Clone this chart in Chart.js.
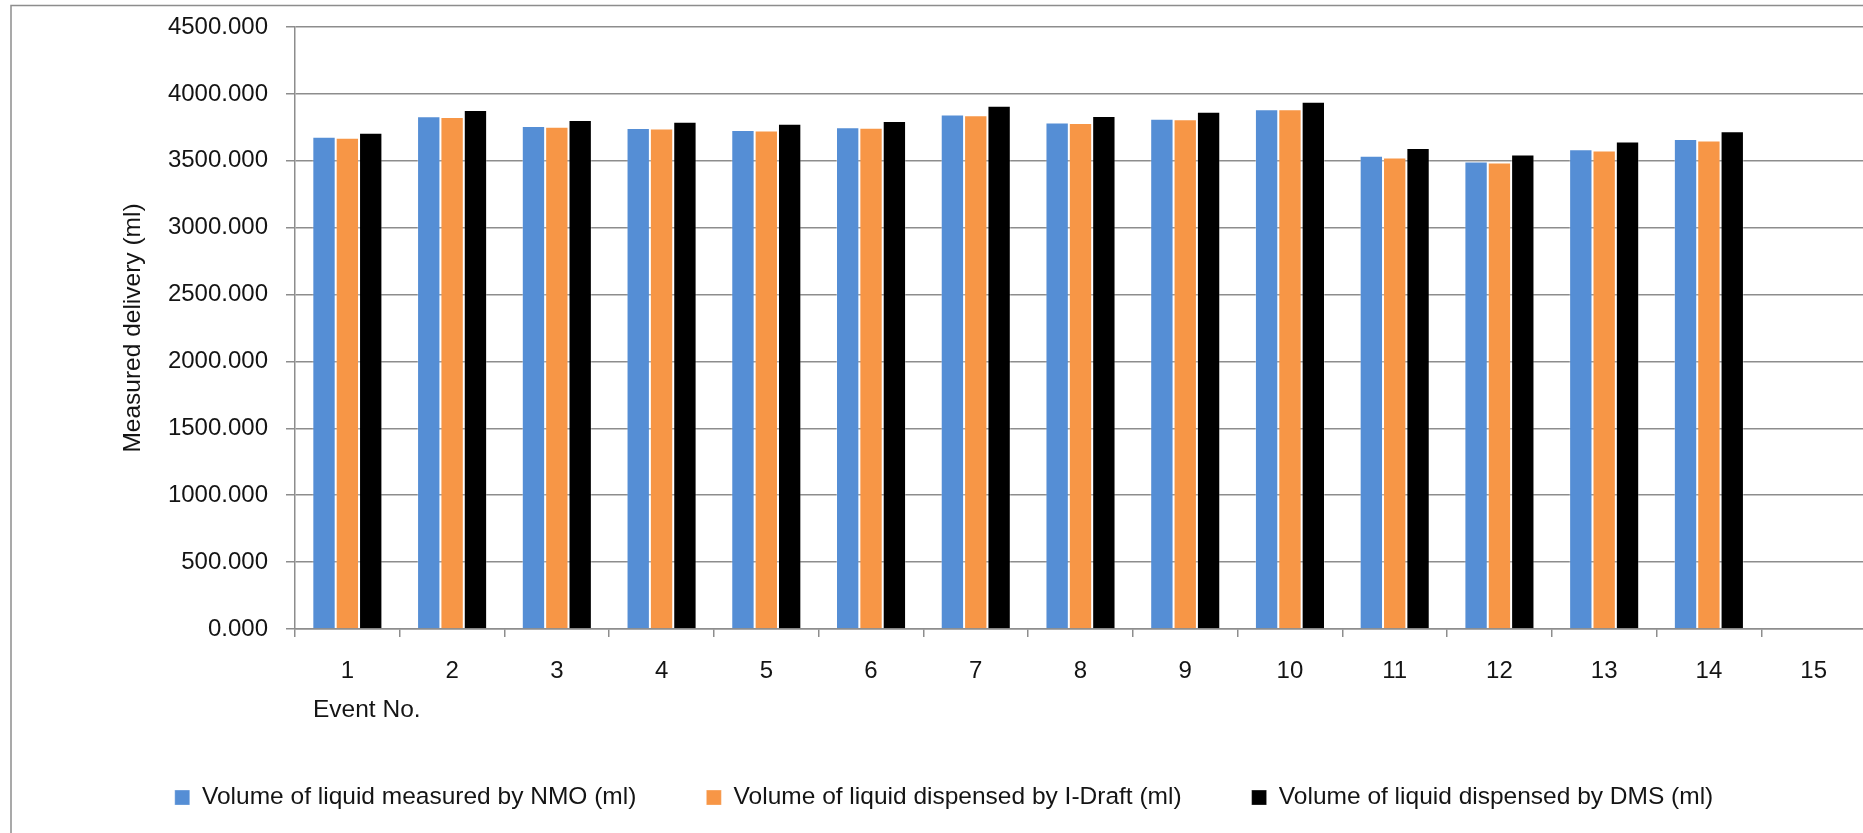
<!DOCTYPE html>
<html>
<head>
<meta charset="utf-8">
<title>Measured delivery per event</title>
<script src="https://cdn.jsdelivr.net/npm/chart.js@4.4.1/dist/chart.umd.min.js"></script>
<style>
  html, body { margin: 0; padding: 0; background: #ffffff; overflow: hidden; }
  #wrap { position: absolute; left: 0; top: 0; width: 1888px; height: 833px; }
</style>
</head>
<body>
<div id="wrap"><canvas id="chart" width="1888" height="833"></canvas></div>
<script>
// Event numbers along the x axis
const events = ['1', '2', '3', '4', '5', '6', '7', '8', '9', '10', '11', '12', '13', '14', '15'];

// Volumes per event (ml); event 15 has no readings
const nmoVolume    = [3680, 3832, 3760, 3745, 3730, 3750, 3845, 3787, 3815, 3885, 3537, 3495, 3587, 3662, null];
const iDraftVolume = [3672, 3827, 3755, 3742, 3727, 3747, 3840, 3782, 3810, 3885, 3525, 3487, 3577, 3652, null];
const dmsVolume    = [3710, 3880, 3805, 3792, 3777, 3797, 3912, 3835, 3867, 3942, 3595, 3547, 3645, 3720, null];

// Value axis ticks
const yTickValues = [0, 500, 1000, 1500, 2000, 2500, 3000, 3500, 4000, 4500];

const seriesNames = [
  'Volume of liquid measured by NMO (ml)',
  'Volume of liquid dispensed by I-Draft (ml)',
  'Volume of liquid dispensed by DMS (ml)'
];
const xTitle = 'Event No.';
const yTitle = 'Measured delivery (ml)';

const GRID = '#8d8d8d';
const TEXT = '#141414';
const FONT = "'Liberation Sans', Arial, sans-serif";

Chart.defaults.font.family = FONT;
Chart.defaults.font.size = 24;
Chart.defaults.color = TEXT;

// Outer frame of the chart area and the left-aligned category title
const framePlugin = {
  id: 'frame',
  beforeDraw(chart) {
    const ctx = chart.ctx;
    ctx.save();
    ctx.strokeStyle = GRID;
    ctx.lineWidth = 1.5;
    ctx.strokeRect(11, 5.5, chart.width - 22, chart.height + 20);
    ctx.restore();
  },
  afterDraw(chart) {
    const ctx = chart.ctx;
    const xs = chart.scales.x;
    ctx.save();
    ctx.font = '24.5px ' + FONT;
    ctx.fillStyle = TEXT;
    ctx.textAlign = 'left';
    ctx.textBaseline = 'alphabetic';
    ctx.fillText(xTitle, xs.left + 18, chart.chartArea.bottom + 88);
    ctx.restore();
  }
};

const barCommon = {
  borderWidth: 1,
  borderColor: 'rgba(255,255,255,0.3)',
  borderSkipped: 'bottom',
  categoryPercentage: 0.669,
  barPercentage: 1.0
};

new Chart(document.getElementById('chart'), {
  type: 'bar',
  data: {
    labels: events,
    datasets: [
      Object.assign({ label: seriesNames[0], data: nmoVolume,    backgroundColor: '#558ed5' }, barCommon),
      Object.assign({ label: seriesNames[1], data: iDraftVolume, backgroundColor: '#f79646' }, barCommon),
      Object.assign({ label: seriesNames[2], data: dmsVolume,    backgroundColor: '#000000' }, barCommon)
    ]
  },
  options: {
    responsive: false,
    animation: false,
    devicePixelRatio: 1,
    layout: { padding: { left: 22, right: 22, top: 27, bottom: 13.2 } },
    plugins: {
      legend: {
        position: 'bottom',
        align: 'center',
        labels: {
          boxWidth: 15,
          boxHeight: 15,
          padding: 70,
          color: TEXT,
          font: { size: 24.5 }
        }
      },
      tooltip: { enabled: false },
      title: { display: false }
    },
    scales: {
      x: {
        offset: true,
        grid: {
          display: true,
          offset: true,
          drawOnChartArea: false,
          drawTicks: true,
          tickLength: 8,
          color: GRID,
          lineWidth: 1.5
        },
        border: { display: true, color: GRID, width: 1.5 },
        ticks: { padding: 20, color: TEXT, font: { size: 24 }, maxRotation: 0, autoSkip: false },
        afterFit(scale) { scale.height = 86.3; }
      },
      y: {
        min: yTickValues[0],
        max: yTickValues[yTickValues.length - 1],
        afterBuildTicks(scale) { scale.ticks = yTickValues.map(v => ({ value: v })); },
        grid: {
          color: GRID,
          lineWidth: 1.5,
          drawTicks: true,
          tickLength: 9
        },
        border: { display: true, color: GRID, width: 1.5 },
        ticks: {
          padding: 18,
          color: TEXT,
          font: { size: 24 },
          callback: v => Number(v).toFixed(3)
        },
        title: {
          display: true,
          text: yTitle,
          color: TEXT,
          font: { size: 24.5 },
          padding: { top: 97, bottom: 0 }
        },
        afterFit(scale) {
          scale.width = 273;
          scale.paddingTop = 0;
          scale.paddingBottom = 0;
        }
      }
    }
  },
  plugins: [framePlugin]
});
</script>
</body>
</html>
